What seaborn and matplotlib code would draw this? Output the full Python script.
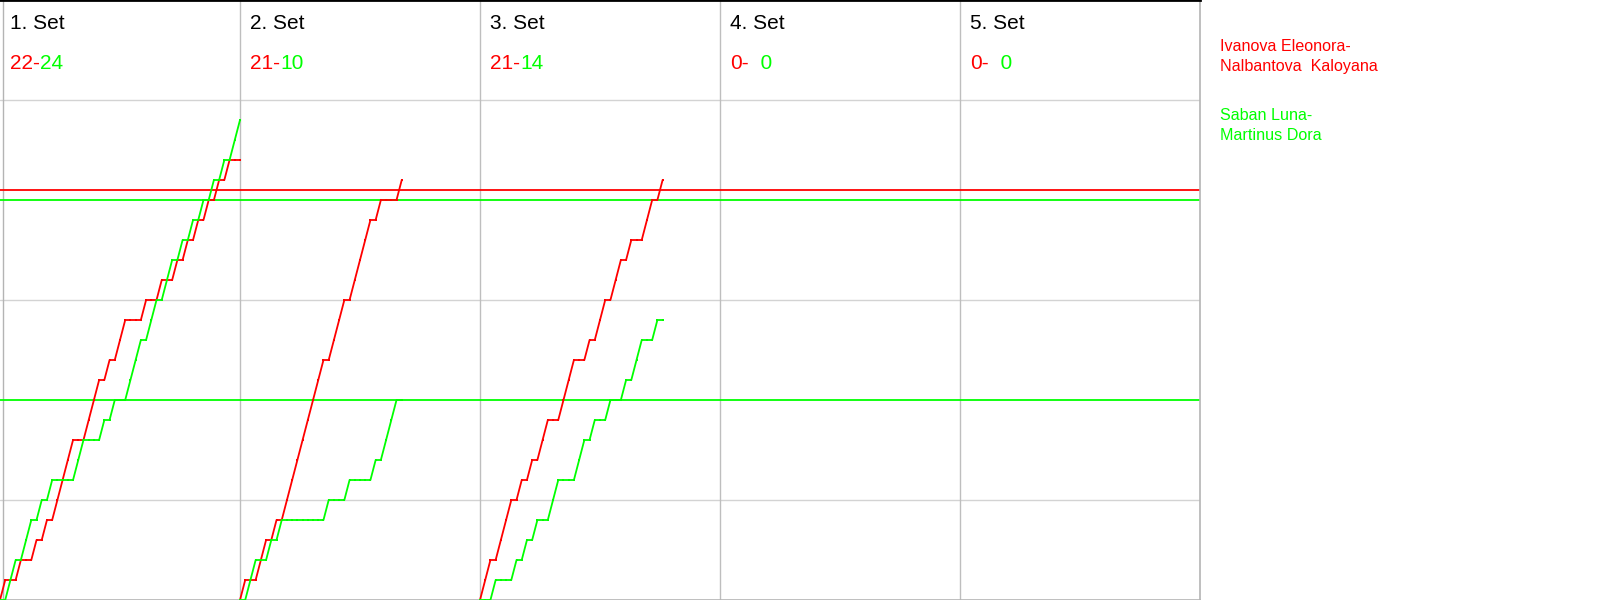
import numpy as np
import pandas as pd
import matplotlib
matplotlib.use("Agg")
import matplotlib.pyplot as plt
import seaborn as sns

# rally winners per set (R = red pair, G = green pair)
rallies_set1 = list("RGGRGGRGRG" "RRRRGGRRRG" "RGRRGGGRGG" "RGGRGRGRGR" "GRGRGG")
rallies_set2 = list("RGGRRGRGRR" "RRRRRRGRRR" "GRRRRGRGGG" "R")
rallies_set3 = list("RRGRRRGRGR" "GRRGGRRRGG" "RGRRGRRGRG" "GRRGR")
rallies_set4 = []
rallies_set5 = []

set_titles = ["1. Set", "2. Set", "3. Set", "4. Set", "5. Set"]
red_labels = ["22-", "21-", "21-", "0-", "0-"]
green_labels = ["24", "10", "14", "  0", "  0"]

red_names = ["Ivanova Eleonora-", "Nalbantova  Kaloyana"]
green_names = ["Saban Luna-", "Martinus Dora"]

ref_values = [20.5, 20, 10]
ref_teams = ["R", "G", "G"]

RED = "#ff0000"
GREEN = "#00ff00"
colors = {"R": RED, "G": GREEN}
slot = 46  # rallies per set column

sns.set_style("white")
plt.rcParams["font.family"] = ["Liberation Sans", "DejaVu Sans"]

rows = []
all_sets = [rallies_set1, rallies_set2, rallies_set3, rallies_set4, rallies_set5]
for k, seq in enumerate(all_sets):
    if not seq:
        continue
    off = k * slot
    score = {"R": 0, "G": 0}
    rows.append((k, off, "R", 0))
    rows.append((k, off, "G", 0))
    for i, w in enumerate(seq, 1):
        score[w] += 1
        rows.append((k, off + i, "R", score["R"]))
        rows.append((k, off + i, "G", score["G"]))
df = pd.DataFrame(rows, columns=["set", "x", "team", "score"])

fig = plt.figure(figsize=(16, 6), dpi=100)
ax = fig.add_axes([0, 0, 0.75, 1])

# grid
for y in [5, 15, 25]:
    ax.axhline(y, color="#d3d3d3", lw=1, zorder=0)
for k in range(1, 5):
    ax.axvline(k * slot, color="#bebebe", lw=1, zorder=0)
ax.axvline(0.5, color="#b4b4b4", lw=1, zorder=0)

for v, t in zip(ref_values, ref_teams):
    ax.axhline(v, color=colors[t], lw=1.3, zorder=1)

sns.lineplot(data=df, x="x", y="score", hue="team", units="set", estimator=None,
             palette=colors, hue_order=["R", "G"], sort=False, lw=1.3,
             marker="s", markersize=1.8, markeredgewidth=0, legend=False, ax=ax, zorder=3)

for k in range(5):
    x0 = k * slot + 1.92
    ax.text(x0, 28.55, set_titles[k], fontsize=15, va="baseline", color="black")
    t = ax.text(x0, 26.55, red_labels[k], fontsize=15, va="baseline", color=RED)
    ax.annotate(green_labels[k], xy=(1, 0), xycoords=t, fontsize=15,
                ha="left", va="bottom", color=GREEN)

ax.set_xlim(0, 5 * slot)
ax.set_ylim(0, 30)
ax.set_xticks([])
ax.set_yticks([])
ax.set_xlabel("")
ax.set_ylabel("")
ax.spines["left"].set_visible(False)
ax.spines["top"].set_color("black")
ax.spines["top"].set_linewidth(2)
for s in ["right", "bottom"]:
    ax.spines[s].set_color("#b4b4b4")
    ax.spines[s].set_linewidth(1.2)

for i, name in enumerate(red_names):
    fig.text(1220 / 1600, 1 - (50.7 + 20 * i) / 600, name, fontsize=11.6,
             color=RED, va="baseline")
for i, name in enumerate(green_names):
    fig.text(1220 / 1600, 1 - (120 + 20 * i) / 600, name, fontsize=11.6,
             color=GREEN, va="baseline")

fig.savefig("out.png", dpi=100)
